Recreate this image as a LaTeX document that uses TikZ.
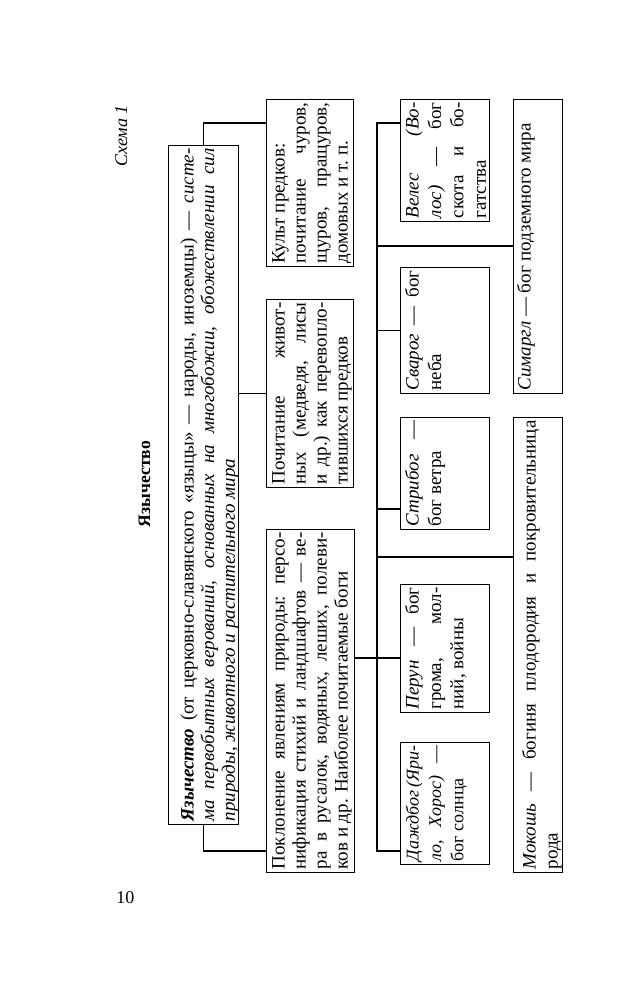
\documentclass[tikz,border=0pt]{standalone}
\usepackage{fontspec}
\setmainfont{Liberation Serif}
\hyphenpenalty=10000
\exhyphenpenalty=10000
\tikzset{
  box/.style={draw, line width=.6pt, rotate=90, anchor=north west,
    inner xsep=1.5pt, inner ysep=3pt, align=justify,
    font=\fontsize{9.5}{10.5}\selectfont, text height=6pt, text depth=31.5pt},
  god/.style={box, font=\fontsize{9.5}{11.2}\selectfont, text depth=32.5pt},
  low/.style={box, font=\fontsize{9.5}{11}\selectfont, text height=8pt, text depth=10.5pt},
}
\begin{document}
\begin{tikzpicture}[x=0.5pt,y=-0.5pt]
  \useasboundingbox (0,0) rectangle (640,1000);
  \node[rotate=90, anchor=base east, inner sep=0, font=\fontsize{9}{11}\selectfont]
    (scheme) at (127,105) {\textit{Схема 1}};
  \node[rotate=90, anchor=base, inner sep=0, font=\fontsize{8.8}{11}\selectfont]
    (title) at (150,484) {\textbf{Язычество}};
  \node[anchor=base west, inner sep=0, font=\fontsize{9}{11}\selectfont]
    (page) at (116,903) {10};
  % top level
  \node[box, text width=336.5pt, font=\fontsize{9.5}{10.3}\selectfont,
    text height=9.5pt, text depth=19.5pt] (main) at (168,825)
    {\textbf{\textit{Язычество}}~(от~церковно-славянского~«языцы»~—~народы,~иноземцы)~—~\textit{систе-}\linebreak
     \textit{ма первобытных верований, основанных на многобожии, обожествлении сил}\linebreak
     \textit{природы, животного и растительного мира}};
  % three forms
  \node[box, text width=80.5pt] (cult) at (266,267)
    {Культ предков:\\ почитание~чуров,\linebreak щуров,~пращуров,\linebreak домовых и т.~п.};
  \node[box, text width=91pt] (poch) at (266,488)
    {Почитание живот-\linebreak ных (медведя, лисы\linebreak и~др.)~как~перевопло-\linebreak тившихся предков};
  \node[box, text width=168.5pt, text depth=32pt] (pokl) at (266,873)
    {Поклонение~явлениям~природы:~персо-\linebreak нификация~стихий~и~ландшафтов~—~ве-\linebreak ра~в~русалок,~водяных,~леших,~полеви-\linebreak ков и др. Наиболее почитаемые боги};
  % gods
  \node[god, text width=58pt] (vel) at (400,222)
    {\textit{Велес (Во-}\linebreak \textit{лос)}~— бог\linebreak скота и бо-\linebreak гатства};
  \node[god, text width=60pt] (svar) at (400,394)
    {\textit{Сварог}~—~бог\linebreak неба};
  \node[god, text width=53pt] (strib) at (400,530)
    {\textit{Стрибог}~—\linebreak бог ветра};
  \node[god, text width=61pt] (perun) at (400,713)
    {\textit{Перун}~—~бог\linebreak грома,~мол-\linebreak ний, войны};
  \node[god, text width=58pt, font=\fontsize{9}{11.2}\selectfont] (dazh) at (400,865)
    {\textit{Даждбог~(Яри-}\linebreak \textit{ло,~Хорос)}~—\linebreak бог солнца};
  \node[low, text width=144pt, text height=5.5pt, text depth=13pt] (sim) at (513,394)
    {\textit{Симаргл}~— бог подземного мира};
  \node[low, text width=224.5pt] (mok) at (513,873)
    {\textit{Мокошь}~— богиня плодородия и покровительница\linebreak рода};
  \coordinate (sptop) at (377,123);
  \coordinate (spbot) at (377,851);
  \begin{scope}[line width=.6pt]
    \draw (main.east) |- (cult.north |- 0,123);
    \draw (main.south |- poch.north) -- (poch.north);
    \draw (main.west) |- (pokl.north |- 0,851);
    \draw (pokl.south |- 0,658) -- (perun.north |- 0,658);
    \draw (vel.north |- sptop) -- (sptop) -- (spbot) -- (dazh.north |- spbot);
    \draw (sptop |- 0,246) -- (sim.north |- 0,246);
    \draw (sptop |- svar.north) -- (svar.north);
    \draw (sptop |- 0,509) -- (strib.north |- 0,509);
    \draw (sptop |- 0,557) -- (mok.north |- 0,557);
  \end{scope}
\end{tikzpicture}
\end{document}
